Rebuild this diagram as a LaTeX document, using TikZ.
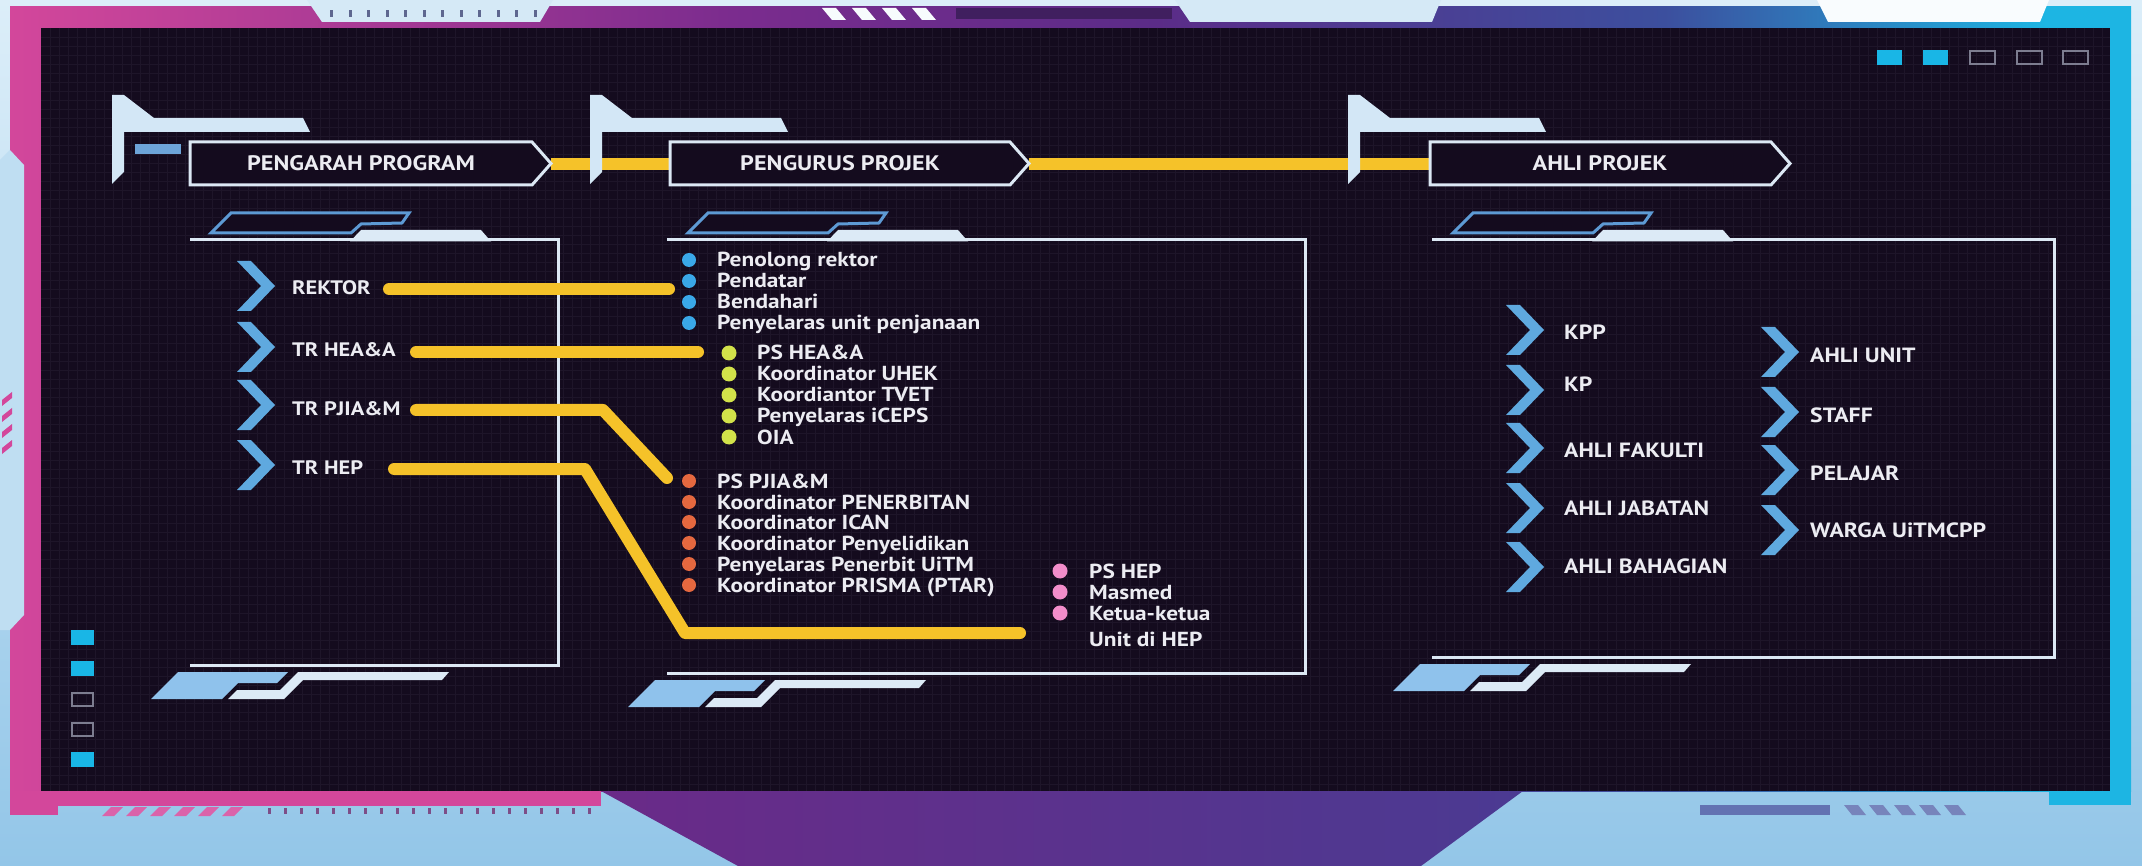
\documentclass[tikz,border=0pt]{standalone}
\usepackage{fontspec}
\setmainfont{PT Sans}[FakeStretch=1.15]
\definecolor{bgtop}{HTML}{DCEEF9}
\definecolor{bgbot}{HTML}{93C6E8}
\definecolor{fmag}{HTML}{D3479B}
\definecolor{fpur}{HTML}{7B2C8E}
\definecolor{fpur2}{HTML}{5B2C88}
\definecolor{fblu}{HTML}{3C4F9E}
\definecolor{fcy}{HTML}{1DB5E3}
\definecolor{panelbg}{HTML}{140B1E}
\definecolor{gridc}{HTML}{1E1529}
\definecolor{hdrline}{HTML}{DCE8F4}
\definecolor{brk}{HTML}{D3E7F6}
\definecolor{lineyel}{HTML}{F5C229}
\definecolor{chev}{HTML}{5FA9DF}
\definecolor{txt}{HTML}{ECECF2}
\definecolor{bblue}{HTML}{3AA8E8}
\definecolor{bgreen}{HTML}{D2E24A}
\definecolor{borange}{HTML}{E5683F}
\definecolor{bpink}{HTML}{F28DCA}
\definecolor{sqcyan}{HTML}{19B6E6}
\definecolor{sqgray}{HTML}{7D7D90}
\definecolor{decoblue}{HTML}{5D9AD4}
\definecolor{decofill}{HTML}{8FC2EC}
\definecolor{decowhite}{HTML}{DCEAF6}
\definecolor{notch}{HTML}{D5E9F6}
\definecolor{trap1}{HTML}{6A2A88}
\definecolor{trap2}{HTML}{4B3A92}
\pgfdeclarehorizontalshading{frameshade}{100bp}{color(0bp)=(fmag); color(25bp)=(fmag); color(42bp)=(fpur); color(52bp)=(fpur2); color(64bp)=(fblu); color(73bp)=(fcy); color(100bp)=(fcy)}
\tikzset{
  yel/.style={line width=12pt, draw=lineyel, line cap=round, line join=round},
  hdrframe/.style={draw=hdrline, line width=3pt, fill=panelbg, line join=miter},
  pline/.style={draw=hdrline, line width=3pt},
  hdrtxt/.style={text=txt, font=\fontsize{21}{24}\selectfont\bfseries, inner sep=0pt},
  lblA/.style={text=txt, font=\fontsize{19.5}{22}\selectfont\bfseries, inner sep=0pt, anchor=west},
  lblB/.style={text=txt, font=\fontsize{20.3}{23}\selectfont\bfseries, inner sep=0pt, anchor=base west},
  lblC/.style={text=txt, font=\fontsize{20.6}{23}\selectfont\bfseries, inner sep=0pt, anchor=west},
  bul/.style={circle, inner sep=0pt, minimum size=14pt},
  bulbig/.style={circle, inner sep=0pt, minimum size=15pt},
  sqon/.style={fill=sqcyan},
  sqoff/.style={draw=sqgray, line width=2pt},
  chevron/.pic={\fill[chev] (0,-25) -- (14,-25) -- (38,0) -- (14,25) -- (0,25) -- (24,0) -- cycle;},
  bracket/.pic={\fill[brk] (0,95) -- (12,95) -- (42,118) -- (191,118) -- (198,132) -- (12,132) -- (12,172) -- (0,184) -- cycle;},
}
\begin{document}
\begin{tikzpicture}[x=1pt,y=-1pt]
\useasboundingbox (0,0) rectangle (2142,866);
% background
\fill[top color=bgtop, bottom color=bgbot] (0,0) rectangle (2142,866);
% frame
\fill[shading=frameshade] (10,7) rectangle (2131,791);
\fill[fmag] (10,791) rectangle (601,806);
\fill[fmag] (10,791) rectangle (58,815);
\fill[fcy] (2049,791) rectangle (2131,805);
% left frame inset
\fill[bgtop!60!bgbot] (0,160) -- (10,150) -- (24,165) -- (24,615) -- (10,630) -- (0,630) -- cycle;
\foreach \i in {0,...,3} \fill[fmag] (2,400+16*\i) -- (12,392+16*\i) -- (12,398+16*\i) -- (2,406+16*\i) -- cycle;
\shade[left color=trap1, right color=trap2] (601,791) -- (1523,791) -- (1421,866) -- (738,866) -- cycle;
\foreach \i in {0,...,5} \fill[fmag!85!white] (102+24*\i,816) -- (111+24*\i,807) -- (123+24*\i,807) -- (114+24*\i,816) -- cycle;
\foreach \i in {0,...,20} \fill[fpur!60!gray] (268+16*\i,808) rectangle (271+16*\i,814);
\fill[fblu!80!white] (1700,805) rectangle (1830,815);
\foreach \i in {0,...,4} \fill[fblu!70!white] (1844+25*\i,805) -- (1858+25*\i,805) -- (1866+25*\i,815) -- (1852+25*\i,815) -- cycle;
% top notches
\fill[notch] (307,0) -- (553,0) -- (540,22) -- (322,22) -- cycle;
\foreach \i in {0,...,11} \fill[fblu!50!gray] (330+18.5*\i,10) rectangle (333+18.5*\i,17);
\fill[notch] (1175,0) -- (1441,0) -- (1432,22) -- (1190,22) -- cycle;
\fill[white!85!notch] (1817,0) -- (2049,0) -- (2040,22) -- (1828,22) -- cycle;
\fill[fpur2!70!black] (956,8) rectangle (1172,19);
\foreach \i in {0,...,3} \fill[white!80!notch] (822+30*\i,8) -- (836+30*\i,8) -- (846+30*\i,20) -- (832+30*\i,20) -- cycle;
% dark panel
\fill[panelbg] (41,28) rectangle (2110,791);
\foreach \x in {50,59,...,2105} \draw[gridc, line width=0.7pt] (\x,28) -- (\x,791);
\foreach \y in {37,46,...,787} \draw[gridc, line width=0.7pt] (41,\y) -- (2110,\y);
% squares
\fill[sqon] (1877,50) rectangle (1902,65);
\fill[sqon] (1923,50) rectangle (1948,65);
\draw[sqoff] (1970,51) rectangle (1995,64);
\draw[sqoff] (2017,51) rectangle (2042,64);
\draw[sqoff] (2063,51) rectangle (2088,64);
\fill[sqon] (71,630) rectangle (94,645);
\fill[sqon] (71,661) rectangle (94,676);
\draw[sqoff] (72,693) rectangle (93,706);
\draw[sqoff] (72,723) rectangle (93,736);
\fill[sqon] (71,752) rectangle (94,767);
% header connectors
\coordinate (h1tip) at (551,164);
\coordinate (h2in) at (672,164);
\coordinate (h2tip) at (1029,164);
\coordinate (h3in) at (1432,164);
\draw[yel, line cap=butt] (h1tip) -- (h2in);
\draw[yel, line cap=butt] (h2tip) -- (h3in);
% brackets
\pic at (112,0) {bracket};
\pic at (590,0) {bracket};
\pic at (1348,0) {bracket};
\fill[decoblue!90!white] (135,144) rectangle (181,154);
% header boxes
\draw[hdrframe] (190,142) -- (532,142) -- (551,163.5) -- (532,185) -- (190,185) -- cycle;
\draw[hdrframe] (670,142) -- (1010,142) -- (1029,163.5) -- (1010,185) -- (670,185) -- cycle;
\draw[hdrframe] (1430,142) -- (1771,142) -- (1790,163.5) -- (1771,185) -- (1430,185) -- cycle;
\node[hdrtxt] (h1) at (361,163.5) {PENGARAH PROGRAM};
\node[hdrtxt] (h2) at (840,163.5) {PENGURUS PROJEK};
\node[hdrtxt] (h3) at (1600,163.5) {AHLI PROJEK};
% panels
\foreach \L/\B/\R in {190/665/558, 667/673/1305, 1432/657/2054}{
  \draw[pline] (\L,240) -- (\R,240) -- (\R,\B) -- (\L,\B);
  \draw[draw=decoblue, line width=3pt, fill=panelbg] (\L+41,213) -- (\L+219,213) -- (\L+212,223) -- (\L+171,224) -- (\L+161,233) -- (\L+21,233) -- cycle;
  \fill[decowhite] (\L+171,230) -- (\L+291,230) -- (\L+301,241.5) -- (\L+160,241.5) -- cycle;
  \fill[decofill] (\L-12,\B+7) -- (\L+98,\B+7) -- (\L+87,\B+18) -- (\L+48,\B+18) -- (\L+32,\B+34) -- (\L-39,\B+34) -- cycle;
  \fill[decowhite] (\L+108,\B+7) -- (\L+259,\B+7) -- (\L+252,\B+15) -- (\L+113,\B+15) -- (\L+94,\B+34) -- (\L+38,\B+34) -- (\L+47,\B+25) -- (\L+90,\B+25) -- cycle;
}
% panel 1
\pic at (237,286) {chevron};
\pic at (237,347) {chevron};
\pic at (237,405) {chevron};
\pic at (237,465) {chevron};
\node[lblA] (rek) at (292,288) {REKTOR};
\node[lblA] (hea) at (292,350) {TR HEA\&A};
\node[lblA] (pji) at (292,409) {TR PJIA\&M};
\node[lblA] (hep) at (292,468) {TR HEP};
% panel 2 lists
\foreach \n/\y in {1/260,2/281,3/302,4/323} \node[bul, fill=bblue] (bb\n) at (689,\y) {};
\node[lblB] (t1) at (717,267) {Penolong rektor};
\node[lblB] (t2) at (717,288) {Pendatar};
\node[lblB] (t3) at (717,309) {Bendahari};
\node[lblB] (t4) at (717,330) {Penyelaras unit penjanaan};
\foreach \n/\y in {1/353,2/374,3/395,4/416,5/437} \node[bulbig, fill=bgreen] (gb\n) at (729,\y) {};
\node[lblB] (g1) at (757,360) {PS HEA\&A};
\node[lblB] (g2) at (757,381) {Koordinator UHEK};
\node[lblB] (g3) at (757,402) {Koordiantor TVET};
\node[lblB] (g4) at (757,423) {Penyelaras iCEPS};
\node[lblB] (g5) at (757,444) {OIA};
\foreach \n/\y in {1/481,2/502,3/522,4/543,5/564,6/585} \node[bul, fill=borange] (ob\n) at (689,\y) {};
\node[lblB] (o1) at (717,488) {PS PJIA\&M};
\node[lblB] (o2) at (717,509) {Koordinator PENERBITAN};
\node[lblB] (o3) at (717,529) {Koordinator ICAN};
\node[lblB] (o4) at (717,550) {Koordinator Penyelidikan};
\node[lblB] (o5) at (717,571) {Penyelaras Penerbit UiTM};
\node[lblB] (o6) at (717,592) {Koordinator PRISMA (PTAR)};
\foreach \n/\y in {1/571,2/592,3/613} \node[bulbig, fill=bpink] (pb\n) at (1060,\y) {};
\node[lblB] (p1) at (1089,578) {PS HEP};
\node[lblB] (p2) at (1089,599) {Masmed};
\node[lblB] (p3) at (1089,620) {Ketua-ketua};
\node[lblB] (p4) at (1089,646) {Unit di HEP};
% panel 1 connectors
\coordinate (r1a) at (389,289); \coordinate (r1b) at (669,289);
\coordinate (r2a) at (416,352); \coordinate (r2b) at (698,352);
\coordinate (r3a) at (416,410); \coordinate (r3c) at (603,410); \coordinate (r3b) at (667,478);
\coordinate (r4a) at (394,469); \coordinate (r4c) at (585,469); \coordinate (r4d) at (685,633); \coordinate (r4b) at (1020,633);
\draw[yel] (r1a) -- (r1b);
\draw[yel] (r2a) -- (r2b);
\draw[yel] (r3a) -- (r3c) -- (r3b);
\draw[yel] (r4a) -- (r4c) -- (r4d) -- (r4b);
% panel 3
\foreach \y in {330,390,448,508,567} \pic at (1506,\y) {chevron};
\foreach \y in {352,412,470,530} \pic at (1761,\y) {chevron};
\node[lblC] (k1) at (1564,332) {KPP};
\node[lblC] (k2) at (1564,384) {KP};
\node[lblC] (k3) at (1564,450) {AHLI FAKULTI};
\node[lblC] (k4) at (1564,508) {AHLI JABATAN};
\node[lblC] (k5) at (1564,566) {AHLI BAHAGIAN};
\node[lblC] (m1) at (1810,355) {AHLI UNIT};
\node[lblC] (m2) at (1810,415) {STAFF};
\node[lblC] (m3) at (1810,473) {PELAJAR};
\node[lblC] (m4) at (1810,530) {WARGA UiTMCPP};
\end{tikzpicture}
\end{document}
